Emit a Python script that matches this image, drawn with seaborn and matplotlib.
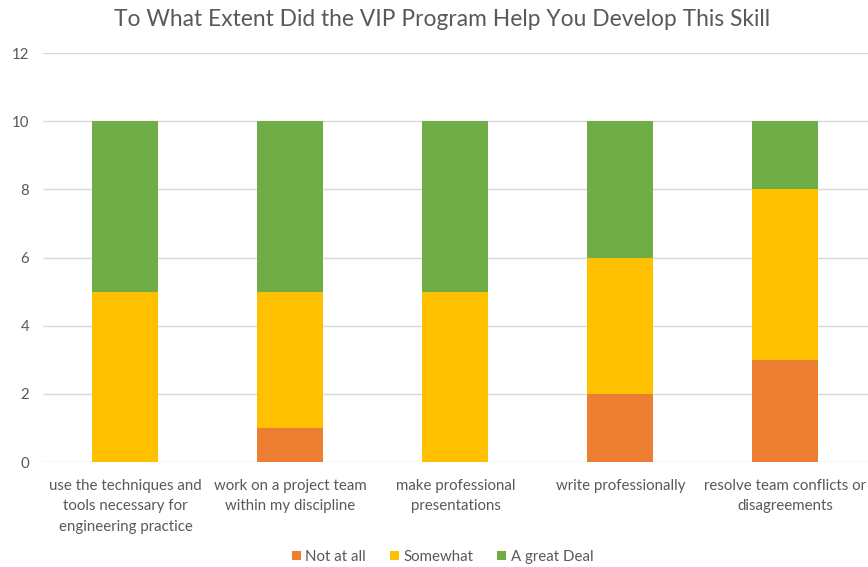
import matplotlib
matplotlib.use("Agg")
import matplotlib.pyplot as plt
import seaborn as sns
import numpy as np
import pandas as pd

categories = [
    "use the techniques and\ntools necessary for\nengineering practice",
    "work on a project team\nwithin my discipline",
    "make professional\npresentations",
    "write professionally",
    "resolve team conflicts or\ndisagreements",
]
not_at_all = [0, 1, 0, 2, 3]
somewhat = [5, 4, 5, 4, 5]
great_deal = [5, 5, 5, 4, 2]
series_names = ["Not at all", "Somewhat", "A great Deal"]
colors = ["#ED7D31", "#FFC000", "#70AD47"]
y_ticks = [0, 2, 4, 6, 8, 10, 12]

sns.set_theme(style="white")
plt.rcParams["font.family"] = ["Lato", "DejaVu Sans"]

fig = plt.figure(figsize=(8.68, 5.67), dpi=100)
ax = fig.add_axes([0.0495, 0.185, 0.9505, 0.7215])

df = pd.DataFrame({"cat": categories, "n": not_at_all, "s": somewhat, "g": great_deal})
df["c1"] = df["n"]
df["c2"] = df["n"] + df["s"]
df["c3"] = df["n"] + df["s"] + df["g"]

for col, name, colr in [("c3", series_names[2], colors[2]),
                        ("c2", series_names[1], colors[1]),
                        ("c1", series_names[0], colors[0])]:
    sns.barplot(data=df, x="cat", y=col, color=colr, width=0.4, ax=ax,
                saturation=1, label=name, zorder=3, linewidth=0, edgecolor="none")

ax.set_ylim(0, 12)
ax.set_xlim(-0.5, 4.5)
ax.set_yticks(y_ticks)
ax.yaxis.grid(True, color="#D9D9D9", linewidth=1, zorder=0)
ax.set_axisbelow(True)
for s in ax.spines.values():
    s.set_visible(False)
ax.set_xlabel("")
ax.set_ylabel("")
ax.tick_params(axis="both", length=0, labelsize=10.8, colors="#595959")
ax.tick_params(axis="x", pad=12)
ax.tick_params(axis="y", pad=10)
for lbl in ax.get_xticklabels():
    lbl.set_linespacing(1.6)
    lbl.set_verticalalignment("top")

h, l = ax.get_legend_handles_labels()
if ax.get_legend() is not None:
    ax.get_legend().remove()
order = [l.index(n) for n in series_names]
leg = fig.legend([h[i] for i in order], [l[i] for i in order], loc="center",
                 bbox_to_anchor=(0.51, 0.018), ncol=3, frameon=False,
                 fontsize=10.8, handlelength=0.6, handleheight=0.6,
                 handletextpad=0.3, columnspacing=1.6)
for t in leg.get_texts():
    t.set_color("#595959")

fig.text(0.509, 0.966, "To What Extent Did the VIP Program Help You Develop This Skill",
         ha="center", va="center", fontsize=16.4, color="#595959")

fig.savefig("out.png", dpi=100)
